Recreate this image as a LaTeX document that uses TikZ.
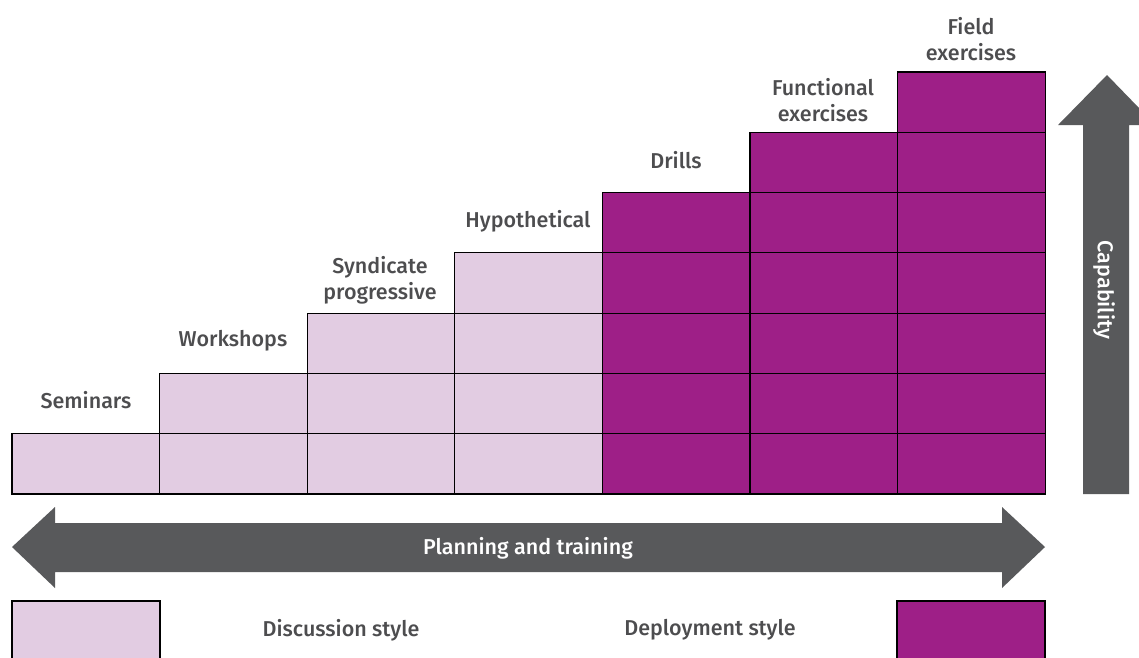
\documentclass[tikz,border=0pt]{standalone}
\usepackage{fontspec}
\setmainfont{Fira Sans}[UprightFont=* Medium]
\definecolor{discussion}{HTML}{E2CCE2}
\definecolor{deployment}{HTML}{9E1F87}
\definecolor{arrowgray}{HTML}{58595B}
\definecolor{labelgray}{HTML}{4D4D4F}
\newcommand{\labelfont}{\fontsize{21.5}{26}\selectfont}
\begin{document}
\begin{tikzpicture}[x=1pt, y=-1pt, cell_style/.style={draw=black, line width=1.2pt}, discussion_style/.style={cell_style, fill=discussion}, deployment_style/.style={cell_style, fill=deployment}, label_style/.style={font=\labelfont, text=labelgray, align=center}, arrow_style/.style={fill=arrowgray}, arrow_label_style/.style={font=\labelfont, text=white}]
      \useasboundingbox (0,0) rectangle (1139,657);
      % staircase of cells
      \foreach \col/\height/\kind in {0/1/discussion, 1/2/discussion, 2/3/discussion, 3/4/discussion, 4/5/deployment, 5/6/deployment, 6/7/deployment}
        \foreach \row in {1,...,\height}
          \draw[\kind_style] (12+147.6*\col, 494-60.3*\row+60.3) rectangle (12+147.6*\col+147.6, 494-60.3*\row);
      \draw
        (86, 400) node[label_style] (seminars){Seminars}
        (233, 341) node[label_style] (workshops){Workshops}
        (380, 280) node[label_style] (syndicate){Syndicate\\progressive}
        (528, 221) node[label_style] (hypothetical){Hypothetical}
        (676, 160) node[label_style] (drills){Drills}
        (823, 100) node[label_style] (functional){Functional\\exercises}
        (971, 39) node[label_style] (field){Field\\exercises};
      % arrows
      \fill[arrow_style] (12,547) -- (55,507) -- (55,523) -- (1002,523) -- (1002,507) -- (1045,547) -- (1002,588) -- (1002,572) -- (55,572) -- (55,588) -- cycle;
      \node[arrow_label_style] (planning) at (528,548) {Planning and training};
      \fill[arrow_style] (1107,75) -- (1139,108) -- (1139,125) -- (1129,125) -- (1129,494) -- (1083,494) -- (1083,125) -- (1058,125) -- cycle;
      \node[arrow_label_style, rotate=-90] (capability) at (1104,290) {Capability};
      % legend
      \draw[discussion_style] (12,663) -- (12,601) -- (160,601) -- (160,663);
      \draw[deployment_style] (897,663) -- (897,601) -- (1045,601) -- (1045,663);
      \draw
        (341, 630) node[label_style] (discussion){Discussion style}
        (710, 630) node[label_style] (deployment){Deployment style};
    \end{tikzpicture}
\end{document}
